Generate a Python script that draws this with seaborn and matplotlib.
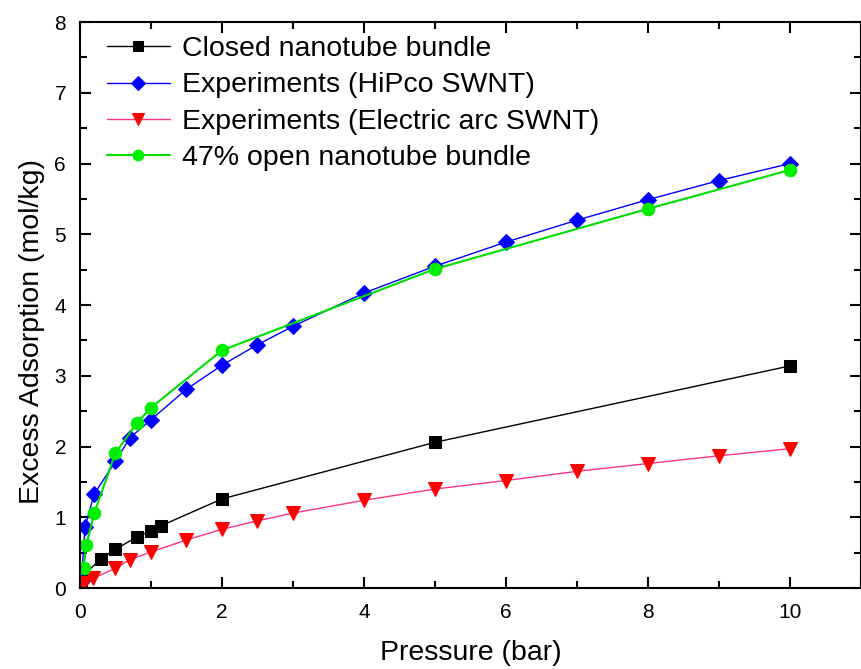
import matplotlib
matplotlib.use("Agg")
import matplotlib.pyplot as plt
import seaborn as sns
import pandas as pd
from matplotlib.ticker import MultipleLocator

sns.set_theme(style="white")
plt.rcParams['font.family'] = ['Liberation Sans', 'DejaVu Sans']
plt.rcParams['text.color'] = 'black'
plt.rcParams['axes.labelcolor'] = 'black'
plt.rcParams['xtick.color'] = 'black'
plt.rcParams['ytick.color'] = 'black'

closed_p = [0.02, 0.05, 0.29, 0.5, 0.8, 1.0, 1.14, 2.0, 5.0, 10.0]
closed_v = [0.05, 0.18, 0.41, 0.55, 0.72, 0.81, 0.88, 1.26, 2.06, 3.14]

hipco_p = [0.02, 0.07, 0.2, 0.5, 0.7, 1.0, 1.5, 2.0, 2.5, 3.0, 4.0, 5.0, 6.0, 7.0, 8.0, 9.0, 10.0]
hipco_v = [0.08, 0.86, 1.33, 1.79, 2.12, 2.38, 2.81, 3.15, 3.44, 3.70, 4.17, 4.55, 4.89, 5.20, 5.49, 5.76, 6.00]

arc_p = [0.02, 0.06, 0.19, 0.5, 0.7, 1.0, 1.5, 2.0, 2.5, 3.0, 4.0, 5.0, 6.0, 7.0, 8.0, 9.0, 10.0]
arc_v = [0.02, 0.07, 0.14, 0.28, 0.40, 0.51, 0.68, 0.83, 0.95, 1.06, 1.24, 1.40, 1.52, 1.65, 1.76, 1.87, 1.97]

open_p = [0.05, 0.09, 0.2, 0.5, 0.8, 1.0, 2.0, 5.0, 8.0, 10.0]
open_v = [0.28, 0.61, 1.06, 1.91, 2.33, 2.55, 3.36, 4.51, 5.36, 5.91]

labels = ["Closed nanotube bundle", "Experiments (HiPco SWNT)",
          "Experiments (Electric arc SWNT)", "47% open nanotube bundle"]

fig = plt.figure(figsize=(8.62, 6.69), dpi=100)
ax = fig.add_axes([0.0928, 0.121, 0.906, 0.846])

series = [
    (closed_p, closed_v, labels[0], 's', 'black', 'black', 8.5, 1.0),
    (hipco_p, hipco_v, labels[1], 'D', '#0000FF', '#0000FF', 8.5, 1.0),
    (arc_p, arc_v, labels[2], 'v', '#FF0000', '#FF3388', 10, 1.0),
    (open_p, open_v, labels[3], 'o', '#00EE00', '#00DD00', 9, 1.5),
]
for p, v, lab, m, mc, lc, ms, lw in series:
    df = pd.DataFrame({"p": p, "v": v})
    sns.lineplot(data=df, x="p", y="v", ax=ax, sort=False, estimator=None,
                 color=lc, linewidth=lw, marker=m, markersize=ms,
                 markerfacecolor=mc, markeredgecolor=mc, label=lab)

ax.set_xlim(0, 11)
ax.set_ylim(0, 8)
ax.xaxis.set_major_locator(MultipleLocator(2))
ax.xaxis.set_minor_locator(MultipleLocator(1))
ax.yaxis.set_major_locator(MultipleLocator(1))
ax.yaxis.set_minor_locator(MultipleLocator(0.5))
ax.tick_params(which='both', direction='in', top=True, right=True, bottom=True, left=True, colors='black')
ax.tick_params(which='major', length=8, width=1.5, labelsize=15)
ax.tick_params(axis='x', which='major', pad=11)
ax.tick_params(axis='y', which='major', pad=10)
ax.tick_params(which='minor', length=5, width=1.5)
for s in ax.spines.values():
    s.set_color('black')
    s.set_linewidth(1.5)

ax.set_xlabel("Pressure (bar)", fontsize=20.5)
ax.set_ylabel("Excess Adsorption (mol/kg)", fontsize=20.5)
ax.xaxis.set_label_coords(0.5, -0.092)
ax.yaxis.set_label_coords(-0.045, 0.454)

leg = ax.legend(loc='upper left', frameon=False, fontsize=20.5, handlelength=2.2,
                handletextpad=0.42, labelspacing=0.36, borderaxespad=0, borderpad=0,
                bbox_to_anchor=(0.0346, 0.975), markerscale=0.85)

fig.savefig("out.png", dpi=100)
